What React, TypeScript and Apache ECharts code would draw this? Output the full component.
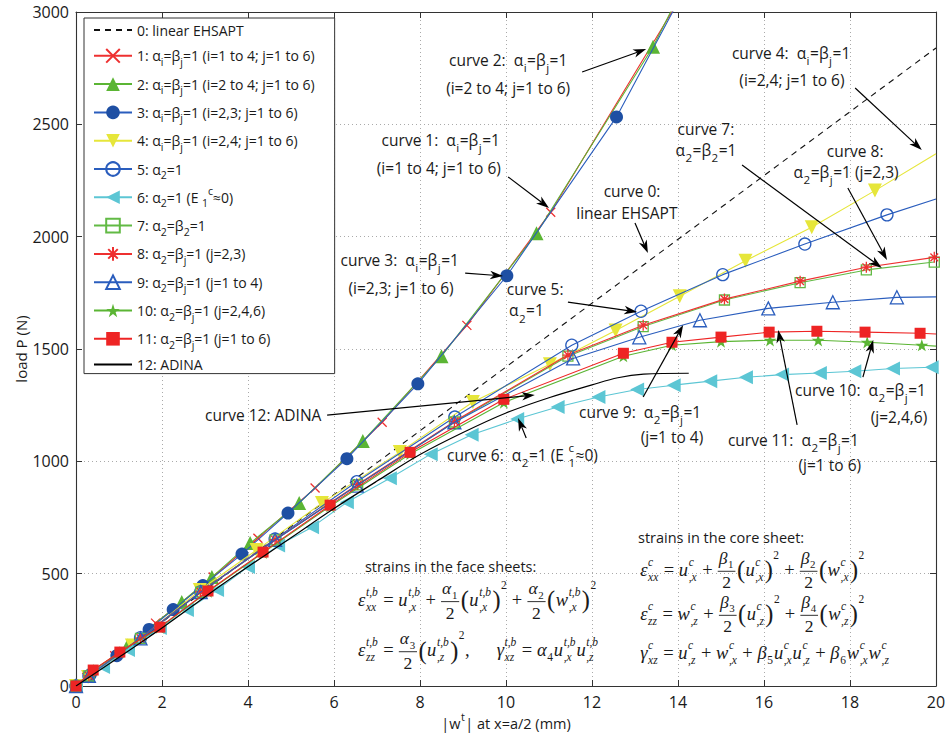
import React, { useEffect, useRef } from 'react';
import * as echarts from 'echarts';

const SANS = '"Open Sans", "Noto Sans", sans-serif';
const SERIF = '"Liberation Serif", "DejaVu Serif", serif';

// ---------- axis ranges ----------
const X_MIN = 0, X_MAX = 20, X_STEP = 2;
const Y_MIN = 0, Y_MAX = 3000, Y_STEP = 500;

// ---------- data: [|w^t| (mm), load P (N)] ----------
const curve0 = [[0, 0], [20, 2840]];
const curve1 = [[0, 0], [0.25, 38], [0.9, 135], [1.85, 280], [3.19, 485], [4.23, 658], [5.56, 881], [7.12, 1174], [9.09, 1605], [11.04, 2109], [13.95, 3030]];
const curve2 = [[0, 0], [0.3, 45], [1.2, 180], [2.46, 374], [3.16, 485], [4.05, 636], [5.19, 814], [6.67, 1090], [8.5, 1468], [10.71, 2015], [13.42, 2845], [13.88, 3020]];
const curve3 = [[0, 0], [0.33, 50], [0.95, 135], [1.7, 252], [2.26, 340], [2.95, 447], [3.86, 587], [4.93, 770], [6.3, 1012], [7.95, 1345], [10.02, 1826], [12.57, 2533], [14.0, 3045]];
const curve4 = [[0, 0], [0.28, 40], [1.3, 180], [2.88, 427], [4.2, 605], [5.72, 814], [7.53, 1041], [9.23, 1264], [11.02, 1432], [12.55, 1582], [14.04, 1735], [15.57, 1893], [17.11, 2042], [18.58, 2205], [20, 2369]];
const curve5 = [[0, 0], [0.3, 45], [1.5, 215], [2.9, 420], [4.63, 654], [6.53, 909], [8.81, 1197], [11.53, 1517], [13.14, 1668], [15.04, 1831], [16.95, 1967], [18.86, 2097], [20, 2168]];
const curve6 = [[0, 0], [0.63, 85], [1.21, 160], [1.95, 258], [2.58, 338], [3.28, 427], [4.0, 530], [4.7, 625], [5.49, 707], [6.3, 818], [7.3, 925], [8.25, 1032], [9.2, 1118], [10.26, 1188], [11.2, 1242], [12.15, 1286], [13.05, 1320], [13.9, 1339], [14.75, 1357], [15.58, 1374], [16.42, 1386], [17.3, 1393], [18.1, 1401], [19.0, 1413], [19.9, 1419], [20, 1420]];
const curve7 = [[0, 0], [0.3, 45], [1.5, 212], [2.9, 418], [4.63, 650], [6.55, 895], [8.8, 1175], [11.44, 1468], [13.19, 1600], [15.08, 1718], [16.84, 1795], [18.38, 1852], [19.96, 1887]];
const curve8 = [[0, 0], [0.3, 45], [1.5, 213], [2.9, 419], [4.63, 651], [6.55, 897], [8.8, 1178], [11.44, 1473], [13.19, 1606], [15.08, 1722], [16.84, 1802], [18.38, 1864], [19.96, 1908]];
const curve9 = [[0, 0], [0.3, 45], [1.5, 212], [2.9, 418], [4.63, 650], [6.53, 892], [8.8, 1174], [11.56, 1458], [13.1, 1552], [14.51, 1628], [16.1, 1681], [17.6, 1708], [19.09, 1730], [20, 1732]];
const curve10 = [[0, 0], [0.4, 70], [1.02, 150], [1.95, 260], [3.07, 420], [4.35, 593], [5.91, 800], [7.77, 1033], [9.95, 1262], [12.73, 1468], [13.86, 1517], [15.0, 1533], [16.14, 1539], [17.26, 1539], [18.4, 1530], [19.67, 1517], [20, 1513]];
const curve11 = [[0, 0], [0.4, 71], [1.02, 151], [1.95, 262], [3.07, 423], [4.35, 596], [5.91, 805], [7.77, 1040], [9.95, 1276], [12.73, 1481], [13.86, 1530], [15.0, 1553], [16.12, 1575], [17.23, 1579], [18.35, 1575], [19.63, 1570], [20, 1567]];
const curve12 = [[0, 0], [1, 128], [2, 258], [3.5, 465], [5, 660], [6, 790], [7, 912], [8, 1030], [9, 1128], [10, 1215], [11, 1283], [12, 1340], [12.6, 1372], [13.2, 1388], [14.25, 1392]];

const SERIES_NAMES = [
  '0: linear EHSAPT',
  '1: αi=βj=1 (i=1 to 4; j=1 to 6)',
  '2: αi=βj=1 (i=2 to 4; j=1 to 6)',
  '3: αi=βj=1 (i=2,3; j=1 to 6)',
  '4: αi=βj=1 (i=2,4; j=1 to 6)',
  '5: α2=1',
  '6: α2=1 (E1c≈0)',
  '7: α2=β2=1',
  '8: α2=βj=1 (j=2,3)',
  '9: α2=βj=1 (j=1 to 4)',
  '10: α2=βj=1 (j=2,4,6)',
  '11: α2=βj=1 (j=1 to 6)',
  '12: ADINA',
];
const LEGEND_RICH = [
  '0: linear EHSAPT',
  '1: α{s|i}=β{s|j}=1 (i=1 to 4; j=1 to 6)',
  '2: α{s|i}=β{s|j}=1 (i=2 to 4; j=1 to 6)',
  '3: α{s|i}=β{s|j}=1 (i=2,3; j=1 to 6)',
  '4: α{s|i}=β{s|j}=1 (i=2,4; j=1 to 6)',
  '5: α{s|2}=1',
  '6: α{s|2}=1 (E {s|1}{p|c}≈0)',
  '7: α{s|2}=β{s|2}=1',
  '8: α{s|2}=β{s|j}=1 (j=2,3)',
  '9: α{s|2}=β{s|j}=1 (j=1 to 4)',
  '10: α{s|2}=β{s|j}=1 (j=2,4,6)',
  '11: α{s|2}=β{s|j}=1 (j=1 to 6)',
  '12: ADINA',
];
const LINE_ONLY = [0, 12];

// ---------- annotations (anchors in data units) ----------
const LABELS: { t: string; x: number; y: number; a: 'left' | 'center' | 'right'; size?: number }[] = [
  { t: 'curve 2:  α_{i}=β_{j}=1', x: 10.05, y: 2786, a: 'center' },
  { t: '(i=2 to 4; j=1 to 6)', x: 10.05, y: 2662, a: 'center' },
  { t: 'curve 1:  α_{i}=β_{j}=1', x: 9.86, y: 2430, a: 'right' },
  { t: '(i=1 to 4; j=1 to 6)', x: 9.88, y: 2306, a: 'right' },
  { t: 'curve 3:  α_{i}=β_{j}=1', x: 7.53, y: 1896, a: 'center' },
  { t: '(i=2,3; j=1 to 6)', x: 7.56, y: 1771, a: 'center' },
  { t: 'curve 5:', x: 10.02, y: 1765, a: 'left' },
  { t: 'α_{2}=1', x: 10.07, y: 1672, a: 'left' },
  { t: 'curve 0:', x: 12.93, y: 2203, a: 'center' },
  { t: 'linear EHSAPT', x: 12.81, y: 2105, a: 'center' },
  { t: 'curve 4:  α_{i}=β_{j}=1', x: 16.63, y: 2817, a: 'center' },
  { t: '(i=2,4; j=1 to 6)', x: 16.65, y: 2697, a: 'center' },
  { t: 'curve 7:', x: 14.65, y: 2478, a: 'center' },
  { t: 'α_{2}=β_{2}=1', x: 14.65, y: 2386, a: 'center' },
  { t: 'curve 8:', x: 18.12, y: 2380, a: 'center' },
  { t: 'α_{2}=β_{j}=1 (j=2,3)', x: 17.91, y: 2288, a: 'center' },
  { t: 'curve 9:  α_{2}=β_{j}=1', x: 11.7, y: 1220, a: 'left' },
  { t: '(j=1 to 4)', x: 13.86, y: 1108, a: 'center' },
  { t: 'curve 10:  α_{2}=β_{j}=1', x: 16.72, y: 1317, a: 'left' },
  { t: '(j=2,4,6)', x: 19.14, y: 1197, a: 'center' },
  { t: 'curve 11:  α_{2}=β_{j}=1', x: 15.16, y: 1095, a: 'left' },
  { t: '(j=1 to 6)', x: 17.53, y: 984, a: 'center' },
  { t: 'curve 12: ADINA', x: 3.0, y: 1206, a: 'left' },
  { t: 'curve 6:  α_{2}=1 (E _{1}^{c}≈0)', x: 8.63, y: 1028, a: 'left' },
  { t: 'strains in the face sheets:', x: 6.72, y: 530, a: 'left', size: 14.5 },
  { t: 'strains in the core sheet:', x: 13.07, y: 662, a: 'left', size: 14.5 },
];
// arrows: [tailX, tailY, tipX, tipY] in data units
const ARROWS = [
  [11.77, 2733, 13.26, 2835],
  [10.05, 2266, 11.0, 2128],
  [9.05, 1838, 9.93, 1825],
  [11.44, 1709, 13.05, 1665],
  [13.0, 2061, 13.3, 1927],
  [18.12, 2662, 19.67, 2386],
  [15.49, 2319, 18.74, 1861],
  [17.95, 2217, 18.86, 1896],
  [13.19, 1286, 14.12, 1607],
  [18.3, 1375, 18.54, 1540],
  [16.77, 1162, 16.33, 1585],
  [5.84, 1206, 10.67, 1295],
  [10.47, 1104, 10.28, 1193],
];

// ---------- text measuring ----------
let mctx: CanvasRenderingContext2D | null = null;
function measure(s: string, size: number, family: string, italic = false) {
  if (!mctx) mctx = document.createElement('canvas').getContext('2d');
  mctx!.font = `${italic ? 'italic ' : ''}${size}px ${family}`;
  return mctx!.measureText(s).width;
}
function txt(s: string, x: number, y: number, size: number, family: string, italic = false, color = '#1a1a1a') {
  return {
    type: 'text', x, y, silent: true, z: 100,
    style: {
      text: s, fontSize: size, fontFamily: family, fontStyle: italic ? 'italic' : 'normal', fill: color,
      align: 'left', verticalAlign: 'middle', textAlign: 'left', textVerticalAlign: 'middle',
    },
  };
}

// text with _{sub} and ^{sup}
function parseScripts(str: string) {
  const parts: any[] = [];
  const re = /(_\{([^}]*)\}(\^\{([^}]*)\})?)|(\^\{([^}]*)\}(_\{([^}]*)\})?)/g;
  let last = 0;
  let m: RegExpExecArray | null;
  while ((m = re.exec(str))) {
    if (m.index > last) parts.push({ t: str.slice(last, m.index) });
    if (m[1]) parts.push({ sub: m[2], sup: m[4] });
    else parts.push({ sup: m[6], sub: m[8] });
    last = re.lastIndex;
  }
  if (last < str.length) parts.push({ t: str.slice(last) });
  return parts;
}
function scriptText(str: string, px: number, py: number, align: string, size: number, out: any[]) {
  const parts = parseScripts(str.replace(/ {2}/g, ' \u00a0'));
  const ss = size * 0.75;
  const ws = parts.map((p) =>
    p.t != null ? measure(p.t, size, SANS) : Math.max(p.sub ? measure(p.sub, ss, SANS) : 0, p.sup ? measure(p.sup, ss, SANS) : 0) + 1
  );
  const total = ws.reduce((a, b) => a + b, 0);
  let x = align === 'left' ? px : align === 'center' ? px - total / 2 : px - total;
  parts.forEach((p, i) => {
    if (p.t != null) out.push(txt(p.t, x, py, size, SANS));
    else {
      if (p.sub) out.push(txt(p.sub, x + 0.5, py + 0.5 * size, ss, SANS));
      if (p.sup) out.push(txt(p.sup, x + 0.5, py - 0.48 * size, ss, SANS));
    }
    x += ws[i];
  });
}

// ---------- mini math layout ----------
const T = (s: string, it = true) => ({ k: 't', s, it });
const S = (sub?: string, sup?: string) => ({ k: 's', sub, sup });
const O = (s: string) => ({ k: 'op', s });
const F = (n: any[], d: any[]) => ({ k: 'f', n, d });
const P = (b: any[], sup: string) => ({ k: 'p', b, sup });
const SP = (w: number) => ({ k: 'sp', w });
const TWO = [T('2', false)];
const isDigits = (s: string) => /^\d+$/.test(s);

function layMath(toks: any[], x0: number, yc: number, size: number, out: any[] | null): number {
  let x = x0;
  const s2 = size * 0.62;
  for (const t of toks) {
    if (t.k === 't') {
      const w = measure(t.s, size, SERIF, t.it);
      if (out) out.push(txt(t.s, x, yc, size, SERIF, t.it));
      x += w;
    } else if (t.k === 's') {
      let w = 0;
      if (t.sup) {
        const it = !isDigits(t.sup);
        w = Math.max(w, measure(t.sup, s2, SERIF, it));
        if (out) out.push(txt(t.sup, x + 0.6, yc - 0.42 * size, s2, SERIF, it));
      }
      if (t.sub) {
        const it = !isDigits(t.sub);
        w = Math.max(w, measure(t.sub, s2, SERIF, it));
        if (out) out.push(txt(t.sub, x + 0.6, yc + 0.38 * size, s2, SERIF, it));
      }
      x += w + 1.5;
    } else if (t.k === 'op') {
      const g = size * 0.25;
      const w = measure(t.s, size, SERIF, false);
      if (out) out.push(txt(t.s, x + g, yc, size, SERIF, false));
      x += w + 2 * g;
    } else if (t.k === 'f') {
      const fs = size * 0.95;
      const wn = layMath(t.n, 0, 0, fs, null);
      const wd = layMath(t.d, 0, 0, fs, null);
      const W = Math.max(wn, wd) + 3;
      if (out) {
        layMath(t.n, x + (W - wn) / 2, yc - 0.65 * size, fs, out);
        layMath(t.d, x + (W - wd) / 2, yc + 0.69 * size, fs, out);
        out.push({
          type: 'line', silent: true, z: 100,
          shape: { x1: x + 0.5, y1: yc + 0.09 * size, x2: x + W - 0.5, y2: yc + 0.09 * size },
          style: { stroke: '#1a1a1a', lineWidth: 0.9 },
        });
      }
      x += W + 1;
    } else if (t.k === 'p') {
      const ps = size * 1.32;
      const wl = measure('(', ps, SERIF, false);
      if (out) out.push(txt('(', x, yc, ps, SERIF, false));
      x += wl + 0.5;
      x += layMath(t.b, x, yc, size, out);
      x += 0.5;
      if (out) out.push(txt(')', x, yc, ps, SERIF, false));
      x += wl;
      if (out) out.push(txt(t.sup, x + 0.5, yc - 0.8 * size, s2, SERIF, false));
      x += measure(t.sup, s2, SERIF, false) + 1;
    } else if (t.k === 'sp') {
      x += t.w;
    }
  }
  return x - x0;
}

const TB = 't,b';
const FORMULAS: { toks: any[]; x: number; y: number }[] = [
  {
    x: 6.56, y: 383,
    toks: [T('ε'), S('xx', TB), O('='), T('u'), S(',x', TB), O('+'), F([T('α'), S('1')], TWO), P([T('u'), S(',x', TB)], '2'), O('+'), F([T('α'), S('2')], TWO), P([T('w'), S(',x', TB)], '2')],
  },
  {
    x: 6.56, y: 160,
    toks: [T('ε'), S('zz', TB), O('='), F([T('α'), S('3')], TWO), P([T('u'), S(',z', TB)], '2'), T(',', false), SP(27), T('γ'), S('xz', TB), O('='), T('α'), S('4'), T('u'), S(',x', TB), T('u'), S(',z', TB)],
  },
  {
    x: 13.12, y: 518,
    toks: [T('ε'), S('xx', 'c'), O('='), T('u'), S(',x', 'c'), O('+'), F([T('β'), S('1')], TWO), P([T('u'), S(',x', 'c')], '2'), O('+'), F([T('β'), S('2')], TWO), P([T('w'), S(',x', 'c')], '2')],
  },
  {
    x: 13.12, y: 322,
    toks: [T('ε'), S('zz', 'c'), O('='), T('w'), S(',z', 'c'), O('+'), F([T('β'), S('3')], TWO), P([T('u'), S(',z', 'c')], '2'), O('+'), F([T('β'), S('4')], TWO), P([T('w'), S(',z', 'c')], '2')],
  },
  {
    x: 13.12, y: 147,
    toks: [T('γ'), S('xz', 'c'), O('='), T('u'), S(',z', 'c'), O('+'), T('w'), S(',x', 'c'), O('+'), T('β'), S('5'), T('u'), S(',x', 'c'), T('u'), S(',z', 'c'), O('+'), T('β'), S('6'), T('w'), S(',x', 'c'), T('w'), S(',z', 'c')],
  },
];

// ---------- series styling ----------
const X_PATH = 'path://M0,0L10,10M10,0L0,10';
const ASTER_PATH = 'path://M5,0L5,10M0,5L10,5M1.5,1.5L8.5,8.5M8.5,1.5L1.5,8.5';
const STAR_PATH = 'path://M50,0L61.2,34.5L97.6,34.5L68.2,55.9L79.4,90.5L50,69.1L20.6,90.5L31.8,55.9L2.4,34.5L38.8,34.5Z';
const RED = '#EE3030', GREEN = '#5BB534', DBLUE = '#1E4FA3', BLUE = '#2A5DBD', YELLOW = '#E6E63A', CYAN = '#5CC6D4', SQGREEN = '#62BA45';
const CLEAR = 'rgba(255,255,255,0)';

function toData(d: number[][]) {
  return d.map(([x, y]) => (x >= X_MAX || y >= Y_MAX ? { value: [x, y], symbol: 'none' } : [x, y]));
}

function line(i: number, data: number[][], color: string, symbol: string, size: number, extra: any = {}) {
  const hollow = extra.hollow;
  const stroke = extra.stroke;
  return {
    name: SERIES_NAMES[i], type: 'line', data: toData(data), color,
    symbol, symbolSize: size, symbolRotate: extra.rotate || 0, symbolKeepAspect: true,
    showSymbol: symbol !== 'none',
    clip: true, smooth: extra.smooth || false,
    lineStyle: { color: extra.lineColor || color, width: extra.width || 1.1, type: extra.dash || 'solid' },
    itemStyle: hollow
      ? { color: CLEAR, borderColor: color, borderWidth: 1.3 }
      : stroke
        ? { color, borderColor: color, borderWidth: 1.3 }
        : { color, borderWidth: 0 },
    emphasis: { disabled: true },
    z: 2 + i * 0.01,
  };
}

function buildOption() {
  const axisLine = { show: true, onZero: false, lineStyle: { color: '#333', width: 1.1 } };
  const tick = { show: true, inside: true, length: 6, lineStyle: { color: '#333', width: 1 } };
  const split = { show: true, lineStyle: { color: '#aaa', width: 1, type: [1, 3] } };
  const label = { fontSize: 16, fontFamily: SANS, color: '#1a1a1a', formatter: (v: number) => String(v) };
  return {
    animation: false,
    backgroundColor: '#ffffff',
    grid: { left: 76, right: 9, top: 12, bottom: 53, outerBoundsMode: 'none', containLabel: false },
    xAxis: [
      { type: 'value', min: X_MIN, max: X_MAX, interval: X_STEP, position: 'bottom', axisLine, axisTick: tick, axisLabel: { ...label, margin: 8 }, splitLine: split },
      { type: 'value', min: X_MIN, max: X_MAX, interval: X_STEP, position: 'top', axisLine, axisTick: tick, axisLabel: { show: false }, splitLine: { show: false } },
    ],
    yAxis: [
      {
        type: 'value', min: Y_MIN, max: Y_MAX, interval: Y_STEP, position: 'left', axisLine, axisTick: tick, axisLabel: { ...label, margin: 7 }, splitLine: split,
        name: 'load P (N)', nameLocation: 'middle', nameGap: 48, nameMoveOverlap: false,
        nameTextStyle: { fontSize: 15, fontFamily: SANS, color: '#1a1a1a' },
      },
      { type: 'value', min: Y_MIN, max: Y_MAX, interval: Y_STEP, position: 'right', axisLine, axisTick: tick, axisLabel: { show: false }, splitLine: { show: false } },
    ],
    legend: {
      orient: 'vertical', left: 84, top: 18, padding: [3, 20, 0, 9], itemGap: 5.3, itemWidth: 38, itemHeight: 17,
      backgroundColor: '#ffffff', borderColor: '#333', borderWidth: 1, borderRadius: 0, selectedMode: false,
      data: SERIES_NAMES.map((name, i) =>
        LINE_ONLY.includes(i)
          ? { name, itemStyle: { color: CLEAR, borderColor: CLEAR, borderWidth: 0 } }
          : { name }
      ),
      formatter: (name: string) => LEGEND_RICH[SERIES_NAMES.indexOf(name)],
      textStyle: {
        fontSize: 14, fontFamily: SANS, color: '#1a1a1a', lineHeight: 18,
        rich: {
          s: { fontSize: 10.5, fontFamily: SANS, color: '#1a1a1a', lineHeight: 6, padding: [12, 0, 0, 0] },
          p: { fontSize: 10.5, fontFamily: SANS, color: '#1a1a1a', lineHeight: 6, padding: [0, 0, 12, 0] },
        },
      },
    },
    series: [
      line(0, curve0, '#111', 'none', 0, { dash: [6, 5], width: 1.1 }),
      line(1, curve1, RED, X_PATH, 9, { stroke: true }),
      line(2, curve2, GREEN, 'triangle', 14),
      line(3, curve3, DBLUE, 'circle', 13, { lineColor: BLUE }),
      line(4, curve4, YELLOW, 'triangle', 14, { rotate: 180 }),
      line(5, curve5, BLUE, 'circle', 12, { hollow: true }),
      line(6, curve6, CYAN, 'triangle', 14, { rotate: 90 }),
      line(7, curve7, SQGREEN, 'rect', 10, { hollow: true }),
      line(8, curve8, RED, ASTER_PATH, 11, { stroke: true }),
      line(9, curve9, BLUE, 'triangle', 13, { hollow: true }),
      line(10, curve10, GREEN, STAR_PATH, 13),
      line(11, curve11, '#EE2424', 'rect', 11),
      line(12, curve12, '#000', 'none', 0, { width: 1.2, smooth: 0.35 }),
    ],
  };
}

function arrow(t: number[], h: number[]) {
  const dx = h[0] - t[0], dy = h[1] - t[1];
  const len = Math.hypot(dx, dy) || 1;
  const ux = dx / len, uy = dy / len, nx = -uy, ny = ux;
  const L = 13, W = 4.3;
  const bx = h[0] - ux * L, by = h[1] - uy * L;
  const notch = [h[0] - ux * L * 0.72, h[1] - uy * L * 0.72];
  return [
    { type: 'line', silent: true, z: 100, shape: { x1: t[0], y1: t[1], x2: notch[0], y2: notch[1] }, style: { stroke: '#000', lineWidth: 1.2 } },
    { type: 'polygon', silent: true, z: 100, shape: { points: [h, [bx + nx * W, by + ny * W], notch, [bx - nx * W, by - ny * W]] }, style: { fill: '#000' } },
  ];
}

function buildGraphics(toPx: (p: number[]) => number[]) {
  const out: any[] = [];
  for (const a of ARROWS) out.push(...arrow(toPx([a[0], a[1]]), toPx([a[2], a[3]])));
  for (const l of LABELS) {
    const p = toPx([l.x, l.y]);
    scriptText(l.t, p[0], p[1], l.a, l.size || 15.5, out);
  }
  for (const f of FORMULAS) {
    const p = toPx([f.x, f.y]);
    layMath(f.toks, p[0], p[1], 18.5, out);
  }
  // x-axis title
  const xp = toPx([(X_MIN + X_MAX) / 2, -165]);
  scriptText('|w^{t}| at x=a/2 (mm)', xp[0], xp[1], 'center', 14.5, out);
  return out;
}

export default function App() {
  const ref = useRef<HTMLDivElement>(null);
  useEffect(() => {
    const el = ref.current!;
    const chart = echarts.init(el, undefined, { renderer: 'svg' });
    chart.setOption(buildOption() as any);
    const toPx = (p: number[]) => chart.convertToPixel({ gridIndex: 0 } as any, p) as unknown as number[];
    chart.setOption({ graphic: { elements: buildGraphics(toPx) } } as any);
    return () => chart.dispose();
  }, []);
  return (
    <div
      ref={ref}
      style={{ position: 'absolute', left: 0, top: 0, width: 945, height: 739, background: '#fff' }}
    />
  );
}
